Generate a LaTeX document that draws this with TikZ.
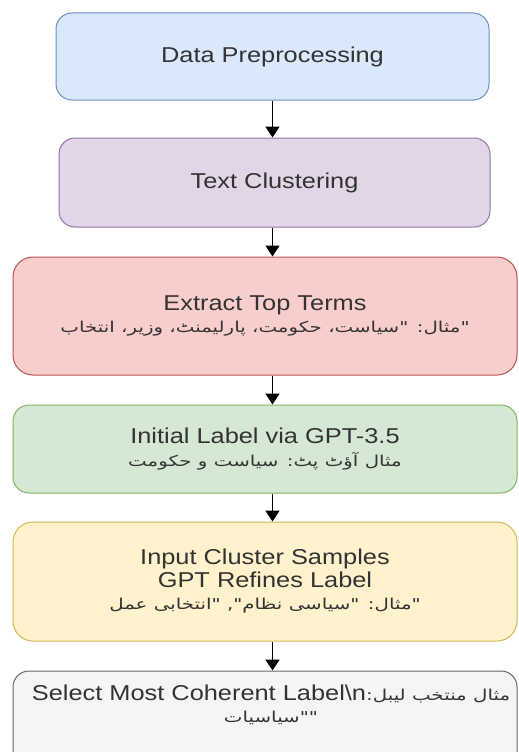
\documentclass[tikz,border=0pt]{standalone}
\usepackage{fontspec}
\setmainfont{Liberation Sans}
\newfontfamily\engfont[FakeStretch=1.18]{Liberation Sans}
\newfontfamily\urdu[Script=Arabic,FakeStretch=1.32]{DejaVu Sans}
\TeXXeTstate=1
\usetikzlibrary{arrows.meta}
\definecolor{txt}{HTML}{333333}
\definecolor{bfill}{HTML}{DAE8FC}\definecolor{bdraw}{HTML}{6C8EBF}
\definecolor{pfill}{HTML}{E1D5E7}\definecolor{pdraw}{HTML}{9673A6}
\definecolor{rfill}{HTML}{F8CECC}\definecolor{rdraw}{HTML}{B85450}
\definecolor{gfill}{HTML}{D5E8D4}\definecolor{gdraw}{HTML}{82B366}
\definecolor{yfill}{HTML}{FFF2CC}\definecolor{ydraw}{HTML}{D6B656}
\definecolor{sfill}{HTML}{F5F5F5}\definecolor{sdraw}{HTML}{666666}
\tikzset{
  flowbox/.style={rectangle, rounded corners=16pt, line width=1pt, align=center,
    text=txt, font=\engfont\fontsize{21.5}{22.5}\selectfont, inner sep=0pt},
  arr/.style={draw=black, line width=1.8pt, -{Triangle[width=14pt,length=11pt]}},
}
\newcommand{\ur}[1]{{\urdu\fontsize{15}{22.5}\selectfont\beginR #1\endR}}
\newcommand{\uq}[1]{{\urdu\fontsize{15}{22.5}\selectfont #1}}
\begin{document}
\begin{tikzpicture}[x=1pt,y=-1pt]
\useasboundingbox (0,0) rectangle (519,752);
\clip (0,0) rectangle (519,752);
\fill[white] (0,0) rectangle (519,752);
\node[flowbox, fill=bfill, draw=bdraw, minimum width=433pt, minimum height=87pt] (b1) at (272.5,56.5) {Data Preprocessing};
\node[flowbox, fill=pfill, draw=pdraw, minimum width=431pt, minimum height=89pt] (b2) at (274.5,182.5) {Text Clustering};
\node[flowbox, fill=rfill, draw=rdraw, minimum width=504pt, minimum height=118pt, rounded corners=20pt] (b3) at (265,316)
  {Extract Top Terms\\ \ur{مثال: "سیاست، حکومت، پارلیمنٹ، وزیر، انتخاب}\uq{"}};
\node[flowbox, fill=gfill, draw=gdraw, minimum width=504pt, minimum height=88pt] (b4) at (265,449)
  {Initial Label via GPT-3.5\\ \ur{مثال آؤٹ پٹ: سیاست و حکومت}};
\node[flowbox, fill=yfill, draw=ydraw, minimum width=504pt, minimum height=119pt, rounded corners=20pt] (b5) at (265,581.5)
  {Input Cluster Samples\\ GPT Refines Label\\ \ur{مثال: "سیاسی نظام", "انتخابی عمل}\uq{"}};
\node[flowbox, fill=sfill, draw=sdraw, minimum width=504pt, minimum height=99pt] (b6) at (265,720.5) {};
\node[flowbox, anchor=center] (b6t) at (271,705)
  {Select Most Coherent Label\textbackslash n\ur{مثال منتخب لیبل:}\\ \ur{سیاسیات}\uq{""}};
\draw[arr] (b1.south) -- (b1.south |- b2.north);
\draw[arr] (b2.south -| b1.south) -- (b1.south |- b3.north);
\draw[arr] (b3.south -| b1.south) -- (b1.south |- b4.north);
\draw[arr] (b4.south -| b1.south) -- (b1.south |- b5.north);
\draw[arr] (b5.south -| b1.south) -- (b1.south |- b6.north);
\end{tikzpicture}
\end{document}
